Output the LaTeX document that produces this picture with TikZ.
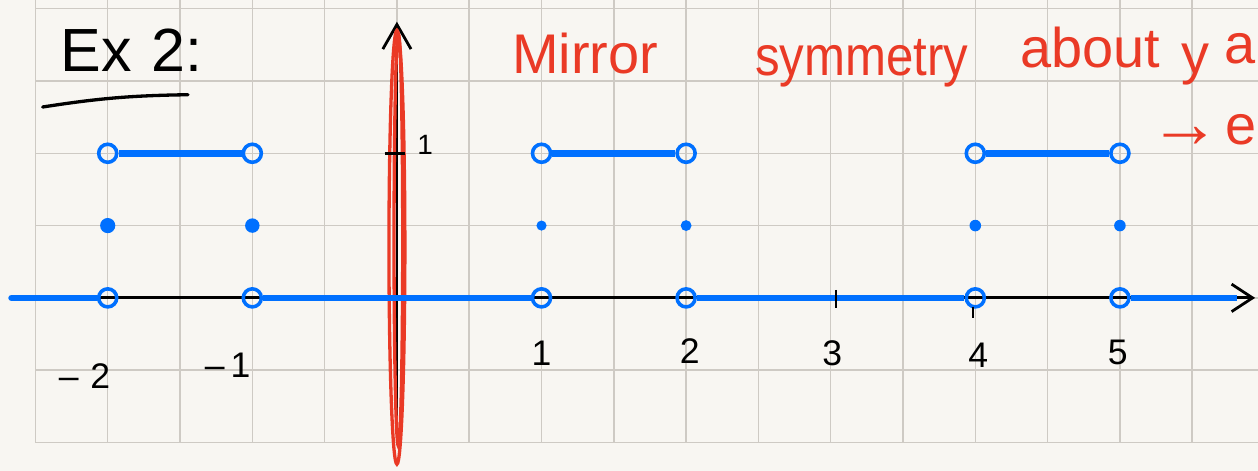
\documentclass[tikz,border=0pt]{standalone}
\usepackage{fontspec}
\setmainfont{Liberation Sans}
\usetikzlibrary{arrows.meta}
\definecolor{paper}{RGB}{248,246,242}
\definecolor{gridgray}{RGB}{206,202,196}
\definecolor{blueink}{RGB}{0,112,255}
\definecolor{redink}{RGB}{234,58,38}
\begin{document}
\begin{tikzpicture}[
    gridline/.style={draw=gridgray, line width=0.6pt},
    axis/.style={line width=1.1pt, -{Straight Barb[length=2.9mm,width=3.8mm]}},
    mirror/.style={draw=redink, line width=1.3pt},
    ray/.style={draw=blueink, line width=2.6pt},
    hole/.style={circle, draw=blueink, line width=1.4pt, minimum size=2.5mm, inner sep=0pt},
    dot/.style={circle, fill=blueink, inner sep=0pt},
    numlabel/.style={font=\fontsize{14}{16}\selectfont},
    note/.style={text=redink, font=\fontsize{22}{26}\selectfont, anchor=base west, inner sep=0pt}
  ]
  \useasboundingbox[fill=paper] (-5.49,-2.39) rectangle (11.91,4.12);
  \draw[gridline] (-5,-2) grid (11.91,4.12);

  % heading
  \node[font=\fontsize{24}{28}\selectfont, anchor=base west, inner sep=0pt] (title) at (-4.66,3.13) {Ex\,\,2:};
  \draw[line width=1.3pt, line cap=round] (-4.90,2.64) to[bend left=4] (-2.89,2.81);

  % axes
  \coordinate (xl) at (-5.33,0);
  \coordinate (xr) at (11.87,0);
  \coordinate (xb) at (11.62,0);
  \coordinate (yb) at (0,-1.96);
  \coordinate (yt) at (0,3.82);
  \draw[axis] (xl) -- (xr);
  \draw[axis, -{Straight Barb[length=3.4mm,width=3.9mm]}] (yb) -- (yt);

  % mirror line
  \draw[mirror] (0,0.70) ellipse [x radius=0.11, y radius=3.0];
  \draw[mirror] (0.02,0.80) ellipse [x radius=0.06, y radius=2.85];

  % points
  \foreach \i/\x/\s in {1/-4/2.1,2/-2/2.0,3/2/1.4,4/4/1.5,5/8/1.6,6/10/1.6} {
    \node[hole] (H\i) at (\x,0) {};
    \node[hole] (T\i) at (\x,2) {};
    \node[dot, minimum size=\s mm] (D\i) at (\x,1) {};
  }

  \draw[ray, line cap=round] (xl) -- (H1);
  \draw[ray] (H2) -- (H3);
  \draw[ray] (H4) -- (H5);
  \draw[ray] (H6) -- (xb);
  \foreach \a/\b in {1/2,3/4,5/6} {
    \draw[ray] (T\a) -- (T\b);
  }

  % ticks
  \draw[line width=1pt] (-0.17,2) -- (0.11,2);
  \draw[line width=1pt] (6.07,0.11) -- (6.07,-0.14);
  \draw[line width=1pt] (7.97,-0.12) -- (7.97,-0.28);
  \node[font=\fontsize{11}{13}\selectfont] (ylab) at (0.39,2.12) {1};

  \foreach \n/\t/\x/\y in {m2/{--\,\,2}/-4.32/-1.08, m1/{--\,1}/-2.34/-0.93,
      p1/1/2.0/-0.77, p2/2/4.05/-0.73, p3/3/6.02/-0.77, p4/4/8.04/-0.80, p5/5/9.97/-0.75} {
    \node[numlabel] (L\n) at (\x,\y) {\t};
  }

  % remark
  \node[note] (w1) at (1.59,3.10) {Mirror};
  \node[note] (w2) at (4.95,3.07) {\scalebox{0.88}[1]{symmetry}};
  \node[note] (w3) at (8.62,3.18) {about};
  \node[note] (w4) at (10.85,3.11) {y};
  \node[note] (w5) at (11.44,3.24) {a};
  \node[note, font=\fontsize{28}{30}\selectfont] (w6) at (10.40,2.08) {→};
  \node[note] (w7) at (11.46,2.12) {e};
\end{tikzpicture}
\end{document}
